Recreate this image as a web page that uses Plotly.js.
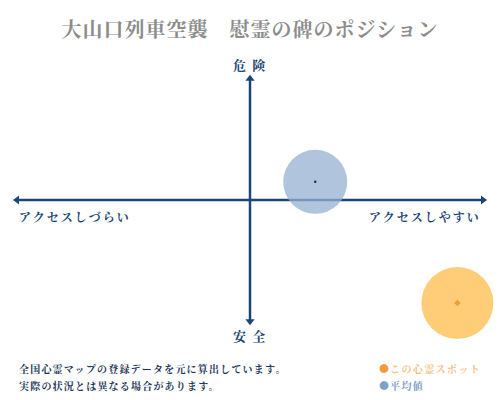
<!DOCTYPE html>
<html>
<head>
<meta charset="utf-8">
<script src="https://cdn.plot.ly/plotly-3.0.1.min.js"></script>
<style>
  html, body { margin: 0; padding: 0; background: #fff; }
  #chart { width: 500px; height: 400px; }
</style>
</head>
<body>
<div id="chart"></div>
<script>
// positions on the access (x) and danger (y) scales, -10 .. 10
const seriesNames = ['この心霊スポット', '平均値'];
const accessScore = [8.9, 2.8];
const dangerScore = [-8.5, 1.5];
const bubbleSize = [72, 64];

const xLabels = ['アクセスしづらい', 'アクセスしやすい'];
const yLabels = ['安 全', '危 険'];
const notes = ['全国心霊マップの登録データを元に算出しています。', '実際の状況とは異なる場合があります。'];

const navy = '#1b4674';
const jp = '"Noto Serif CJK JP", "Noto Sans CJK JP", serif';

// letter spacing helper for annotation text
const spaced = (t, px, color) =>
  '<span style="letter-spacing:' + px + 'px' + (color ? ';color:' + color : '') + '">' + t + '</span>';

const traces = [
  // axes with arrow tips
  {
    x: [-10, 10], y: [0, 0], mode: 'lines+markers', hoverinfo: 'skip',
    line: {color: navy, width: 2.5},
    marker: {symbol: ['triangle-left', 'triangle-right'], size: 8, color: navy}
  },
  {
    x: [0, 0], y: [-10, 10], mode: 'lines+markers', hoverinfo: 'skip',
    line: {color: navy, width: 2.5},
    marker: {symbol: ['triangle-down', 'triangle-up'], size: 8, color: navy}
  },
  // bubbles
  {
    x: [accessScore[1]], y: [dangerScore[1]], mode: 'markers', name: seriesNames[1],
    marker: {size: bubbleSize[1], color: 'rgba(150,176,210,0.75)', line: {width: 0}}
  },
  {
    x: [accessScore[0]], y: [dangerScore[0]], mode: 'markers', name: seriesNames[0],
    marker: {size: bubbleSize[0], color: 'rgba(255,196,95,0.85)', line: {width: 0}}
  },
  // centre dots
  {
    x: [accessScore[1]], y: [dangerScore[1]], mode: 'markers', hoverinfo: 'skip',
    marker: {size: 2.5, color: '#1d2d44'}
  },
  {
    x: [accessScore[0]], y: [dangerScore[0]], mode: 'markers', hoverinfo: 'skip',
    marker: {size: 5, symbol: 'diamond', color: '#f0a02c'}
  }
];

const ann = [
  {x: 0, y: 10, yshift: 14, text: spaced(yLabels[1], 1.5), font: {family: jp, size: 13, color: navy, weight: 'bold'}},
  {x: 0, y: -10, yshift: -14, text: spaced(yLabels[0], 1.5), font: {family: jp, size: 13, color: navy, weight: 'bold'}},
  {x: -10, y: 0, yshift: -16, xanchor: 'left', text: spaced(xLabels[0], 2)},
  {x: 10, y: 0, yshift: -16, xanchor: 'right', text: spaced(xLabels[1], 2)}
].map(a => Object.assign({
  xref: 'x', yref: 'y', showarrow: false,
  font: {family: jp, size: 12, color: navy, weight: 'bold'}
}, a));

notes.forEach((t, i) => ann.push({
  xref: 'paper', yref: 'paper', x: 0.034, y: 1 - (368 + i * 17) / 400,
  xanchor: 'left', yanchor: 'middle', showarrow: false, text: spaced(t, 1.2),
  font: {family: jp, size: 10, color: '#1d3556', weight: 'bold'}
}));

ann.push({
  xref: 'paper', yref: 'paper', x: 0.754, y: 1 - 368 / 400, xanchor: 'left', yanchor: 'middle',
  showarrow: false, text: spaced('●', 1, '#ef9a3c') + spaced(seriesNames[0], 1.4),
  font: {family: jp, size: 10, color: '#f3c27c', weight: 'bold'}
});
ann.push({
  xref: 'paper', yref: 'paper', x: 0.754, y: 1 - 385 / 400, xanchor: 'left', yanchor: 'middle',
  showarrow: false, text: spaced('●', 1, '#7fa2c4') + spaced(seriesNames[1], 1.4),
  font: {family: jp, size: 10, color: '#7fa2c4', weight: 'bold'}
});

const layout = {
  width: 500, height: 400,
  margin: {l: 0, r: 0, t: 0, b: 0},
  paper_bgcolor: '#fff', plot_bgcolor: '#fff',
  showlegend: false,
  title: {
    text: spaced('大山口列車空襲　慰霊の碑のポジション', 1),
    font: {family: jp, size: 20, color: '#8c8c8c', weight: 'bold'},
    x: 0.5, xanchor: 'center', y: 1 - 30 / 400, yanchor: 'middle'
  },
  xaxis: {range: [-10.73, 10.73], visible: false, fixedrange: true},
  yaxis: {range: [-16.5, 16.5], visible: false, fixedrange: true},
  annotations: ann
};

Plotly.newPlot('chart', traces, layout, {staticPlot: true});
</script>
</body>
</html>
